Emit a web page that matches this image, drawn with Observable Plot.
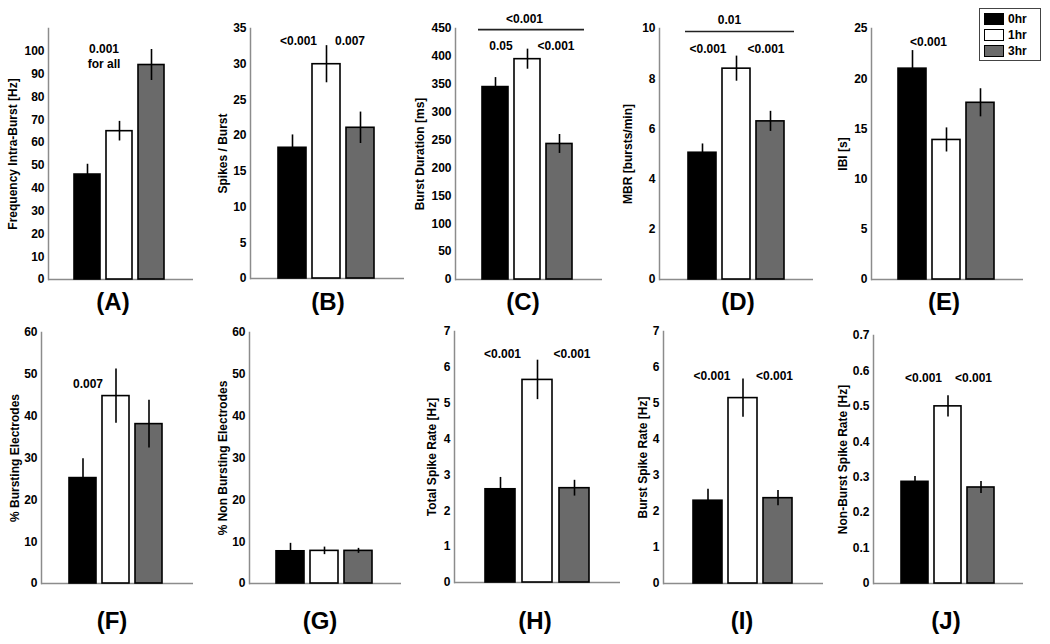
<!DOCTYPE html>
<html>
<head>
<meta charset="utf-8">
<script src="https://cdn.jsdelivr.net/npm/d3@7"></script>
<script src="https://cdn.jsdelivr.net/npm/@observablehq/plot@0.6"></script>
<style>
  html, body { margin: 0; padding: 0; background: #fff; }
  #wrap { position: relative; width: 1050px; height: 644px; overflow: hidden; font-family: "Liberation Sans", Arial, sans-serif; }
  #wrap svg { position: absolute; overflow: visible; }
  #wrap svg text { font-weight: bold !important; }
  .letter { position: absolute; font-weight: bold; font-size: 24px; transform: translate(-50%, -50%); white-space: nowrap; }
  .legend { position: absolute; border: 1px solid #444; background: #fff; font-weight: bold; font-size: 12px; }
  .legend .row { position: absolute; left: 4px; height: 12px; display: flex; align-items: center; }
  .legend .sw { width: 18px; height: 10px; border: 1px solid #000; margin-right: 4px; }
</style>
</head>
<body>
<div id="wrap"></div>
<script>
// ---------- data ----------
const conditions = ["0hr", "1hr", "3hr"];
const fills = ["#000000", "#ffffff", "#6a6a6a"];
const panelLetters = ["(A)", "(B)", "(C)", "(D)", "(E)", "(F)", "(G)", "(H)", "(I)", "(J)"];
const yLabels = [
  "Frequency Intra-Burst [Hz]", "Spikes / Burst", "Burst Duration [ms]", "MBR [bursts/min]", "IBI [s]",
  "% Bursting Electrodes", "% Non Bursting Electrodes", "Total Spike Rate [Hz]", "Burst Spike Rate [Hz]", "Non-Burst Spike Rate [Hz]"
];

const meanA = [46, 65, 94],        errA = [4.5, 4.3, 6.8];
const meanB = [18.3, 30, 21.1],    errB = [1.8, 2.6, 2.2];
const meanC = [345, 395, 243],     errC = [17, 18, 17];
const meanD = [5.05, 8.4, 6.3],    errD = [0.35, 0.5, 0.4];
const meanE = [21, 13.9, 17.6],    errE = [1.8, 1.2, 1.4];
const meanF = [25.2, 44.8, 38.1],  errF = [4.6, 6.5, 5.7];
const meanG = [7.7, 7.8, 7.8],     errG = [1.9, 0.9, 0.6];
const meanH = [2.6, 5.65, 2.63],   errH = [0.33, 0.55, 0.22];
const meanI = [2.3, 5.15, 2.37],   errI = [0.32, 0.53, 0.21];
const meanJ = [0.287, 0.5, 0.271], errJ = [0.015, 0.03, 0.017];

const ticksA = [0, 10, 20, 30, 40, 50, 60, 70, 80, 90, 100];
const ticksB = [0, 5, 10, 15, 20, 25, 30, 35];
const ticksC = [0, 50, 100, 150, 200, 250, 300, 350, 400, 450];
const ticksD = [0, 2, 4, 6, 8, 10];
const ticksE = [0, 5, 10, 15, 20, 25];
const ticksF = [0, 10, 20, 30, 40, 50, 60];
const ticksG = [0, 10, 20, 30, 40, 50, 60];
const ticksH = [0, 1, 2, 3, 4, 5, 6, 7];
const ticksI = [0, 1, 2, 3, 4, 5, 6, 7];
const ticksJ = [0, 0.1, 0.2, 0.3, 0.4, 0.5, 0.6, 0.7];
const yMax = [110, 35, 450, 10, 25, 60, 60, 7, 7, 0.7];

// significance annotations (text, anchor category, y value)
const annA = [{text: "0.001\nfor all", x: "1hr", y: 97.9, dx: -15.5}];
const annB = [{text: "<0.001", x: "0hr", y: 33.3, dx: 6}, {text: "0.007", x: "3hr", y: 33.3, dx: -10.5}];
const annC = [{text: "<0.001", x: "1hr", y: 468, dx: -3}, {text: "0.05", x: "0hr", y: 419.5, dx: 5.5}, {text: "<0.001", x: "3hr", y: 419.5, dx: -3.5}];
const annD = [{text: "0.01", x: "1hr", y: 10.36, dx: -7}, {text: "<0.001", x: "0hr", y: 9.2, dx: 5.5}, {text: "<0.001", x: "3hr", y: 9.2, dx: -4.5}];
const annE = [{text: "<0.001", x: "0hr", y: 23.7, dx: 16}];
const annF = [{text: "0.007", x: "0hr", y: 47.8, dx: 5}];
const annG = [];
const annH = [{text: "<0.001", x: "0hr", y: 6.39, dx: 2}, {text: "<0.001", x: "3hr", y: 6.39, dx: -2.5}];
const annI = [{text: "<0.001", x: "0hr", y: 5.8, dx: 4}, {text: "<0.001", x: "3hr", y: 5.8, dx: -3.5}];
const annJ = [{text: "<0.001", x: "0hr", y: 0.581, dx: 8.5}, {text: "<0.001", x: "3hr", y: 0.581, dx: -7.5}];
// horizontal comparison lines
const bracketC = [{y: 448, insetLeft: 23, insetRight: 18}];
const bracketD = [{y: 9.88, insetLeft: 26, insetRight: 19}];

// ---------- layout (pixels) ----------
const layout = [
  {axis: 48,  end: 193,  top: 28,  base: 279, barL: 74,  barR: 165, lab: 40, lx: 113, ly: 302},
  {axis: 250, end: 404,  top: 28,  base: 278, barL: 278, barR: 374, lab: 32, lx: 328, ly: 302},
  {axis: 455, end: 602,  top: 28,  base: 279, barL: 482, barR: 573, lab: 40, lx: 523, ly: 302},
  {axis: 659, end: 813,  top: 28,  base: 279, barL: 687, barR: 784, lab: 36, lx: 738, ly: 302},
  {axis: 871, end: 1023, top: 28,  base: 279, barL: 898, barR: 994, lab: 33, lx: 944, ly: 302},
  {axis: 41,  end: 193,  top: 332, base: 583, barL: 68,  barR: 163, lab: 31, lx: 112, ly: 621},
  {axis: 249, end: 401,  top: 332, base: 583, barL: 276, barR: 372, lab: 31, lx: 320, ly: 621},
  {axis: 454, end: 620,  top: 331, base: 582, barL: 484, barR: 591, lab: 27, lx: 535, ly: 621},
  {axis: 663, end: 823,  top: 331, base: 583, barL: 692, barR: 793, lab: 25, lx: 742, ly: 621},
  {axis: 873, end: 1023, top: 335, base: 583, barL: 901, barR: 995, lab: 35, lx: 946, ly: 621}
];

const means = [meanA, meanB, meanC, meanD, meanE, meanF, meanG, meanH, meanI, meanJ];
const errs = [errA, errB, errC, errD, errE, errF, errG, errH, errI, errJ];
const ticks = [ticksA, ticksB, ticksC, ticksD, ticksE, ticksF, ticksG, ticksH, ticksI, ticksJ];
const anns = [annA, annB, annC, annD, annE, annF, annG, annH, annI, annJ];
const brackets = [[], [], bracketC, bracketD, [], [], [], [], [], []];

const wrap = document.getElementById("wrap");
const fmt = d3.format("~g");
const axisGray = "#8c8c8c";

layout.forEach((L, i) => {
  const rows = conditions.map((c, j) => ({cond: c, value: means[i][j], err: errs[i][j]}));
  const ml = 50, mt = 28, mr = 12, mb = 8;
  const svgLeft = L.axis - ml, svgTop = L.top - mt;
  const width = L.end - svgLeft + mr;
  const height = L.base - L.top + mt + mb;
  const marks = [
    Plot.frame({anchor: "left", stroke: axisGray, strokeWidth: 1.5}),
    Plot.ruleY([0], {stroke: axisGray, strokeWidth: 1.5}),
    Plot.axisY({ticks: ticks[i], tickSize: 0, tickPadding: 4, tickFormat: fmt, fontWeight: "bold", fontSize: 12,
      label: yLabels[i], labelAnchor: "center", labelOffset: L.lab, labelArrow: false}),
    Plot.barY(rows, {x: "cond", y: "value", fill: "cond", stroke: "#000", strokeWidth: 1.6}),
    Plot.ruleX(rows, {x: "cond", y1: d => d.value - d.err, y2: d => d.value + d.err, stroke: "#000", strokeWidth: 1.6}),
    ...brackets[i].map(b => Plot.ruleY([b.y], {stroke: "#222", strokeWidth: 1.6, insetLeft: b.insetLeft, insetRight: b.insetRight})),
    ...anns[i].map(a => Plot.text([a], {x: "x", y: "y", text: "text", dx: a.dx, fontSize: 12, fontWeight: "bold", lineHeight: 1.25, fill: "#000"}))
  ];
  const chart = Plot.plot({
    width, height,
    marginLeft: ml, marginTop: mt, marginRight: mr, marginBottom: mb,
    x: {type: "band", domain: conditions, range: [L.barL - svgLeft, L.barR - svgLeft], paddingInner: 0.18, paddingOuter: 0, axis: null},
    y: {domain: [0, yMax[i]]},
    color: {domain: conditions, range: fills},
    style: {fontFamily: "'Liberation Sans', Arial, sans-serif", fontSize: "12px", fontWeight: "bold", color: "#000", background: "transparent", overflow: "visible"},
    marks
  });
  chart.style.left = svgLeft + "px";
  chart.style.top = svgTop + "px";
  wrap.appendChild(chart);

  const letter = document.createElement("div");
  letter.className = "letter";
  letter.textContent = panelLetters[i];
  letter.style.left = L.lx + "px";
  letter.style.top = L.ly + "px";
  wrap.appendChild(letter);
});

// legend
const legend = document.createElement("div");
legend.className = "legend";
Object.assign(legend.style, {left: "979px", top: "8px", width: "60px", height: "51px"});
conditions.forEach((c, j) => {
  const row = document.createElement("div");
  row.className = "row";
  row.style.top = (4 + j * 16) + "px";
  const sw = document.createElement("div");
  sw.className = "sw";
  sw.style.background = fills[j];
  const t = document.createElement("span");
  t.textContent = c;
  row.appendChild(sw);
  row.appendChild(t);
  legend.appendChild(row);
});
wrap.appendChild(legend);
</script>
</body>
</html>
